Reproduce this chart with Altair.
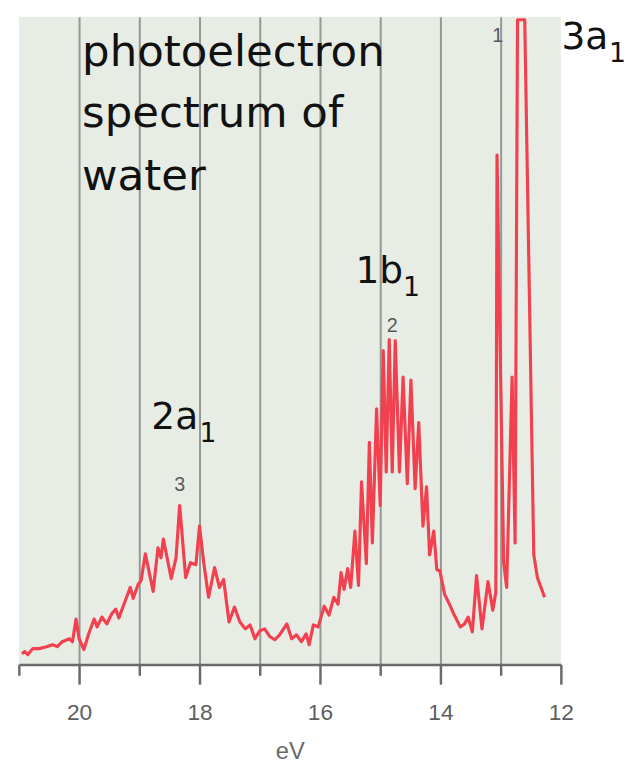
import altair as alt
import pandas as pd

# ---- spectrum (binding energy in eV, intensity in arbitrary units) ----
ev = [20.95, 20.90, 20.85, 20.77, 20.66, 20.54, 20.44, 20.36, 20.28, 20.16,
      20.11, 20.05, 20.00, 19.92, 19.84, 19.75, 19.70, 19.62, 19.54, 19.46,
      19.39, 19.34, 19.23, 19.15, 19.10, 19.02, 18.97, 18.90, 18.77, 18.69,
      18.64, 18.60, 18.47, 18.39, 18.33, 18.23, 18.15, 18.06, 18.00, 17.93,
      17.85, 17.75, 17.67, 17.60, 17.51, 17.42, 17.33, 17.24, 17.16, 17.08,
      17.00, 16.92, 16.83, 16.75, 16.67, 16.55, 16.47, 16.39, 16.31, 16.23,
      16.18, 16.11, 16.03, 15.93, 15.85, 15.77, 15.70, 15.65, 15.60, 15.54,
      15.49, 15.42, 15.36, 15.31, 15.23, 15.18, 15.13, 15.06, 15.00, 14.95,
      14.90, 14.85, 14.80, 14.75, 14.68, 14.62, 14.55, 14.49, 14.42, 14.36,
      14.29, 14.23, 14.18, 14.11, 14.06, 14.01, 13.93, 13.85, 13.77, 13.67,
      13.60, 13.54, 13.47, 13.40, 13.31, 13.21, 13.13, 13.08, 13.06, 12.95,
      12.90, 12.81, 12.76, 12.72, 12.60, 12.45, 12.39, 12.27]
intensity = [11, 13, 10, 16, 16, 18, 20, 18, 23, 26,
             23, 46, 26, 15, 31, 46, 38, 48, 41, 51,
             56, 47, 65, 78, 67, 81, 85, 112, 74, 118,
             108, 127, 87, 108, 161, 88, 103, 101, 140, 103,
             68, 98, 78, 86, 43, 58, 43, 36, 40, 26,
             34, 36, 28, 25, 30, 41, 26, 30, 23, 31,
             20, 40, 38, 59, 50, 68, 61, 93, 76, 97,
             78, 135, 80, 185, 102, 225, 123, 259, 161, 318,
             195, 329, 195, 328, 195, 291, 183, 288, 178, 245,
             140, 180, 111, 135, 96, 95, 71, 61, 50, 38,
             41, 48, 33, 90, 36, 84, 55, 73, 516, 103,
             78, 291, 123, 653, 653, 111, 88, 68]

# ---- axis ticks ----
tick_values = [12, 13, 14, 15, 16, 17, 18, 19, 20, 21]

# ---- annotations (placed in data coordinates) ----
peak_labels = ["3", "2", "1"]
peak_ev = [18.33, 14.80, 13.05]
peak_int = [182, 343, 636]

title_lines = ["photoelectron", "spectrum of", "water"]
title_ev = [19.95, 19.95, 19.95]
title_int = [606, 544, 481]

orbital_main = ["2a", "1b", "3a"]
orbital_main_ev = [18.80, 15.41, 11.99]
orbital_main_int = [238, 386, 623]
orbital_sub = ["1", "1", "1"]
orbital_sub_ev = [18.00, 14.62, 11.20]
orbital_sub_int = [225, 373, 610]

spec = pd.DataFrame({"ev": ev, "intensity": intensity})
peaks = pd.DataFrame({"label": peak_labels, "ev": peak_ev, "intensity": peak_int})
titles = pd.DataFrame({"label": title_lines, "ev": title_ev, "intensity": title_int})
orb_main = pd.DataFrame({"label": orbital_main, "ev": orbital_main_ev, "intensity": orbital_main_int})
orb_sub = pd.DataFrame({"label": orbital_sub, "ev": orbital_sub_ev, "intensity": orbital_sub_int})

x_scale = alt.Scale(domain=[21, 12], nice=False, zero=False)
y_scale = alt.Scale(domain=[0, 656], nice=False)

x_axis = alt.Axis(
    values=tick_values,
    format="d",
    labelExpr="datum.value % 2 == 0 ? datum.label : ''",
    tickSize={"condition": {"test": "datum.value % 2 == 0", "value": 20}, "value": 11},
    grid=True,
    gridOpacity={"condition": {"test": "datum.value == 12 || datum.value == 21", "value": 0}, "value": 1},
    gridColor="#939893",
    gridWidth=2,
    domainColor="#6a6a6a",
    domainWidth=2.5,
    tickColor="#6a6a6a",
    tickWidth=2.5,
    labelFont="Liberation Sans",
    labelFontSize=23,
    labelColor="#5e5e5e",
    labelPadding=18,
    labelOverlap=False,
    labelFlush=False,
    title="eV",
    titleFont="Liberation Sans",
    titleFontSize=24,
    titleFontWeight="normal",
    titleColor="#6a6a6a",
    titlePadding=15,
)

line = alt.Chart(spec).mark_line(
    color="#f2404f", strokeWidth=3.2, strokeJoin="round"
).encode(
    x=alt.X("ev:Q", scale=x_scale, axis=x_axis),
    y=alt.Y("intensity:Q", scale=y_scale, axis=None),
)

peak_text = alt.Chart(peaks).mark_text(
    font="Liberation Sans", fontSize=20, color="#5a5a5a", baseline="middle", align="center"
).encode(x="ev:Q", y="intensity:Q", text="label:N")

title_text = alt.Chart(titles).mark_text(
    font="DejaVu Sans", fontSize=44, color="#111111", baseline="alphabetic", align="left"
).encode(x="ev:Q", y="intensity:Q", text="label:N")

orb_main_text = alt.Chart(orb_main).mark_text(
    font="DejaVu Sans", fontSize=38, color="#111111", baseline="alphabetic", align="left"
).encode(x="ev:Q", y="intensity:Q", text="label:N")

orb_sub_text = alt.Chart(orb_sub).mark_text(
    font="DejaVu Sans", fontSize=27, color="#111111", baseline="alphabetic", align="left"
).encode(x="ev:Q", y="intensity:Q", text="label:N")

chart = alt.layer(
    line, peak_text, title_text, orb_main_text, orb_sub_text
).properties(
    width=549,
    height=656,
    autosize=alt.AutoSizeParams(type="none"),
    padding={"left": 11, "top": 4, "right": 68, "bottom": 98},
    background="white",
).configure_view(
    fill="#e7ede5",
    stroke=None,
)

chart.save("out.html", embed_options={"renderer": "svg", "actions": False})
